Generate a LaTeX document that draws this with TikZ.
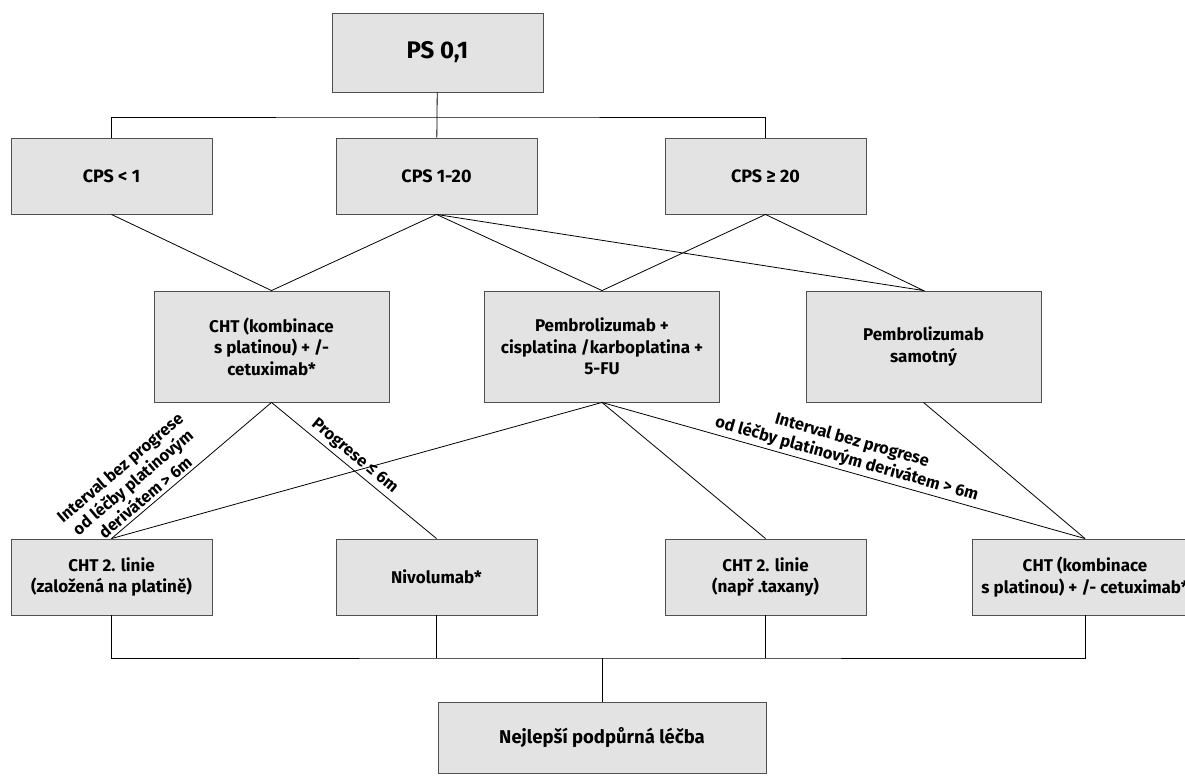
\documentclass[tikz,border=0pt]{standalone}
\usepackage{fontspec}
\setmainfont{Fira Sans}
\definecolor{boxgray}{RGB}{227,227,227}
\definecolor{boxline}{RGB}{80,80,80}

\begin{document}
\begin{tikzpicture}[x=1pt,y=-1pt]
         \tikzset{box/.style={draw=boxline,fill=boxgray,line width=.9pt,align=center,inner sep=2pt,font=\bfseries\fontsize{17}{21.5}\selectfont}}
         \tikzset{small/.style={box,minimum width=201pt,minimum height=76pt}}
         \tikzset{mid/.style={box,minimum width=235pt,minimum height=111pt}}
         \tikzset{link/.style={draw,line width=.8pt}}
         \tikzset{lbl/.style={sloped,above,align=center,inner sep=3pt,font=\bfseries\fontsize{16.5}{19.5}\selectfont}}
         \useasboundingbox (0,0) rectangle (1185,776);
         \node[box,minimum width=211pt,minimum height=79pt,font=\bfseries\fontsize{24}{28}\selectfont] (ps) at (437.5,52.5) {PS 0,1};
         \node[small,font=\bfseries\fontsize{18}{22}\selectfont] (cpsa) at (111.5,176) {CPS < 1};
         \node[small,font=\bfseries\fontsize{18}{22}\selectfont] (cpsb) at (436.5,176) {CPS 1-20};
         \node[small,font=\bfseries\fontsize{18}{22}\selectfont] (cpsc) at (765.5,176) {CPS ≥ 20};
         \node[mid] (cht) at (271.5,346.5) {CHT (kombinace\\s platinou) + /-\\cetuximab*};
         \node[mid] (pemb) at (602,346.5) {Pembrolizumab +\\cisplatina /karboplatina +\\5-FU};
         \node[mid] (pems) at (923.5,346.5) {Pembrolizumab\\samotný};
         \node[small] (chtl) at (111.5,577) {CHT 2. linie\\(založená na platině)};
         \node[small] (nivo) at (436.5,577) {Nivolumab*};
         \node[small] (chtt) at (765.5,577) {CHT 2. linie\\(např .taxany)};
         \node[small,minimum width=226pt] (chtr) at (1085,577) {CHT (kombinace\\s platinou) + /- cetuximab*};
         \node[box,minimum width=328pt,minimum height=71pt,font=\bfseries\fontsize{18.5}{22}\selectfont] (best) at (602,737.5) {Nejlepší podpůrná léčba};
         \coordinate (topfork) at (437,117);
         \coordinate (botfork) at (602,658);
         \path[link] (ps) -- (topfork);
         \path[link] (cpsa.north) |- (topfork) -| (cpsc.north);
         \path[link] (topfork) -- (cpsb);
         \path[link] (cpsa.south) -- (cht.north) -- (cpsb.south) -- (pemb.north);
         \path[link] (cpsb.south) -- (pems.north) -- (cpsc.south) -- (pemb.north);
         \path[link] (chtl.north) -- node[lbl,pos=.25] {Interval bez progrese\\od léčby platinovým\\derivátem > 6m} (cht.south);
         \path[link] (cht.south) -- node[lbl,pos=.46] {Progrese ≤ 6m} (nivo.north);
         \path[link] (chtl.north) -- (pemb.south) -- (chtt.north);
         \path[link] (pemb.south) -- node[lbl,pos=.5] {Interval bez progrese\\od léčby platinovým derivátem > 6m} (chtr.north);
         \path[link] (pems.south) -- (chtr.north);
         \path[link] (chtl.south) |- (botfork) -| (chtr.south);
         \path[link] (nivo.south) -- (nivo.south |- botfork);
         \path[link] (chtt.south) -- (chtt.south |- botfork);
         \path[link] (botfork) -- (best);
\end{tikzpicture}
\end{document}
